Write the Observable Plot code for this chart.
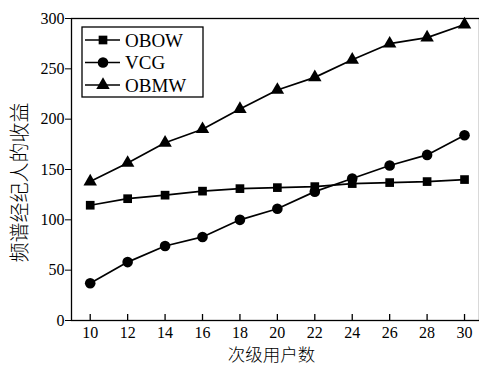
<!DOCTYPE html>
<html>
<head>
<meta charset="utf-8">
<script src="https://cdn.jsdelivr.net/npm/d3@7"></script>
<script src="https://cdn.jsdelivr.net/npm/@observablehq/plot@0.6"></script>
<style>
  html, body { margin: 0; padding: 0; background: #fff; }
  #wrap { position: relative; width: 479px; height: 367px; }
  #legend { position: absolute; left: 81px; top: 26px; }
</style>
</head>
<body>
<div id="wrap"></div>
<script>
const users = [10, 12, 14, 16, 18, 20, 22, 24, 26, 28, 30];
const obow = [114.5, 121, 124.5, 128.5, 131, 132, 133, 136, 137, 138, 140];
const vcg  = [37, 58, 74, 83, 100, 111, 128, 141, 154, 164.5, 184];
const obmw = [138, 156.5, 176.5, 190, 210, 229, 241.5, 259, 275, 281, 294];
const seriesNames = ["OBOW", "VCG", "OBMW"];
const seriesSymbols = ["square", "circle", "triangle"];
const xTicks = [10, 12, 14, 16, 18, 20, 22, 24, 26, 28, 30];
const yTicks = [0, 50, 100, 150, 200, 250, 300];
const xLabel = "次级用户数";
const yLabel = "频谱经纪人的收益";

const seriesValues = [obow, vcg, obmw];
const rows = [];
seriesNames.forEach((name, i) => {
  users.forEach((u, j) => rows.push({series: name, x: u, y: seriesValues[i][j]}));
});

const serif = "'Liberation Serif', 'DejaVu Serif', serif";
const cjk = "'Noto Sans CJK SC', sans-serif";
const symR = {square: 4.9, circle: 5.3, triangle: 5.0};

const marks = [
  Plot.frame({stroke: "black", strokeWidth: 1.3}),
  Plot.ruleX(xTicks, {x: d => d, insetTop: 296, stroke: "black", strokeWidth: 1.3}),
  Plot.axisX({ticks: xTicks, tickSize: 0, tickPadding: 6, fontSize: 16, fontFamily: serif, fill: "black", label: null}),
  Plot.axisY({ticks: yTicks, tickSize: 6, tickPadding: 1, fontSize: 16, fontFamily: serif, fill: "black", stroke: "black", label: null}),
  Plot.text([xLabel], {frameAnchor: "bottom", textAnchor: "middle", lineAnchor: "middle", dx: -4, dy: 34.5, fontSize: 17.5, fontFamily: cjk, fontWeight: 300, fill: "black"}),
  Plot.text([yLabel], {frameAnchor: "left", textAnchor: "middle", lineAnchor: "middle", dx: -51, dy: 13, rotate: -90, fontSize: 20, fontFamily: cjk, fontWeight: 300, fill: "black"})
];
seriesNames.forEach((name, i) => {
  const data = rows.filter(r => r.series === name);
  marks.push(Plot.line(data, {x: "x", y: "y", stroke: "black", strokeWidth: 1.7}));
  marks.push(Plot.dot(data, {x: "x", y: "y", symbol: seriesSymbols[i], r: symR[seriesSymbols[i]], fill: "black", stroke: "none"}));
});

const chart = Plot.plot({
  width: 479,
  height: 367,
  marginLeft: 71,
  marginRight: 0,
  marginTop: 18,
  marginBottom: 47,
  x: {domain: [9, 30.8]},
  y: {domain: [0, 300]},
  style: {background: "white", overflow: "visible"},
  marks
});
const wrap = document.getElementById("wrap");
wrap.appendChild(chart);

// legend
const lw = 121, lh = 70;
const leg = d3.create("svg").attr("id", "legend").attr("width", lw + 2).attr("height", lh + 2);
leg.append("rect").attr("x", 1).attr("y", 1).attr("width", lw).attr("height", lh)
  .attr("fill", "white").attr("stroke", "black").attr("stroke-width", 1.3);
const rowY = [14, 36.5, 59];
const symMap = {square: d3.symbolSquare, circle: d3.symbolCircle, triangle: d3.symbolTriangle};
seriesNames.forEach((name, i) => {
  const g = leg.append("g").attr("transform", `translate(0,${rowY[i]})`);
  g.append("line").attr("x1", 4).attr("x2", 39).attr("stroke", "black").attr("stroke-width", 1.7);
  const r = symR[seriesSymbols[i]];
  g.append("path").attr("transform", "translate(22,0)")
    .attr("d", d3.symbol(symMap[seriesSymbols[i]], Math.PI * r * r)()).attr("fill", "black");
  g.append("text").attr("x", 44).attr("y", 0).attr("dy", "0.35em")
    .attr("font-family", serif).attr("font-size", 19).text(name);
});
wrap.appendChild(leg.node());
</script>
</body>
</html>
